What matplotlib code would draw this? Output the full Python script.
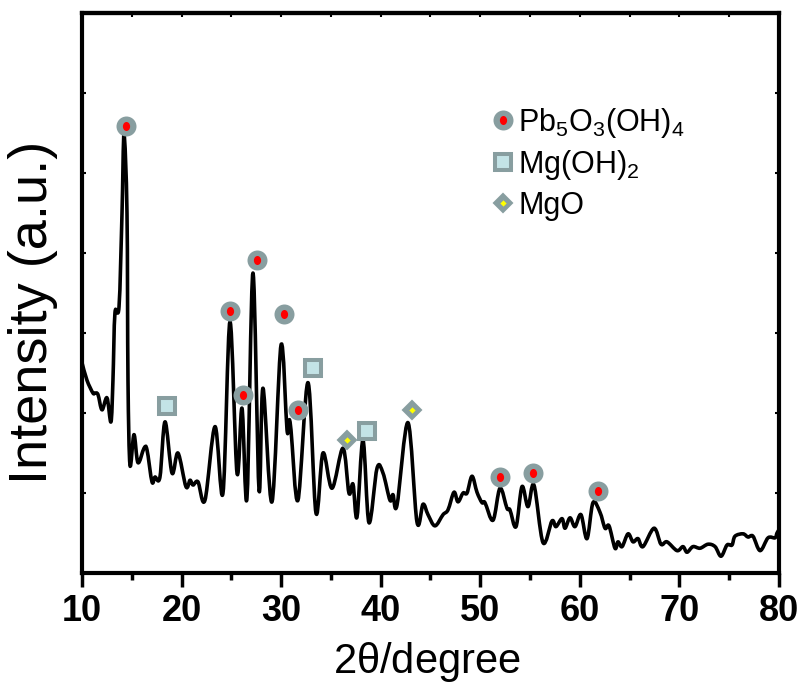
import numpy as np
import matplotlib
matplotlib.use("Agg")
import matplotlib.pyplot as plt
from matplotlib.lines import Line2D
from matplotlib.path import Path
from matplotlib.patches import PathPatch
from matplotlib.legend_handler import HandlerTuple
from matplotlib.ticker import MultipleLocator

plt.rcParams['font.family'] = ['Liberation Sans', 'DejaVu Sans']
plt.rcParams['mathtext.default'] = 'regular'

# XRD pattern, 2theta in degrees vs intensity (arbitrary units)
two_theta = [10.00, 10.50, 11.10, 11.31, 11.61, 12.01, 12.51, 12.91, 13.11, 13.31,
             13.72, 14.02, 14.22, 14.52, 14.62, 14.82, 15.22, 15.62, 16.23, 16.53,
             17.03, 17.33, 17.83, 18.34, 19.04, 19.64, 20.44, 20.85, 21.15, 21.65,
             22.35, 23.36, 24.16, 24.86, 25.57, 26.07, 26.57, 27.17, 27.78, 28.18,
             29.08, 29.99, 30.59, 30.79, 30.99, 31.69, 32.70, 33.50, 34.20, 35.11,
             36.21, 36.81, 37.22, 37.62, 38.22, 38.82, 39.63, 40.23, 40.93, 41.23,
             41.64, 42.74, 43.64, 44.25, 44.75, 45.45, 46.26, 46.76, 47.36, 47.76,
             48.27, 48.67, 49.17, 49.67, 50.17, 50.47, 51.28, 51.98, 52.68, 52.98,
             53.59, 54.19, 54.79, 55.39, 56.30, 57.20, 57.60, 58.21, 58.51, 59.01,
             59.51, 60.11, 60.72, 61.32, 62.02, 62.53, 62.93, 63.53, 63.83, 64.24,
             64.84, 65.34, 65.84, 66.34, 67.45, 68.15, 68.75, 69.76, 70.36, 70.76,
             71.36, 72.07, 72.87, 73.58, 74.18, 74.78, 75.28, 75.58, 76.39, 76.89,
             77.39, 78.10, 78.90, 79.60, 79.80, 80.00]
intensity = [2.63, 2.41, 2.25, 2.25, 2.23, 2.04, 2.19, 1.89, 2.41, 3.25,
             3.33, 4.50, 5.48, 4.50, 2.41, 1.35, 1.73, 1.38, 1.56, 1.54,
             1.14, 1.20, 1.20, 1.89, 1.25, 1.50, 1.08, 1.16, 1.10, 1.14,
             0.91, 1.83, 1.00, 3.14, 1.25, 2.06, 0.94, 3.75, 1.04, 2.31,
             0.89, 2.85, 1.79, 1.91, 1.79, 0.91, 2.38, 0.75, 1.50, 1.06,
             1.56, 1.00, 1.11, 0.70, 1.66, 0.63, 1.31, 1.25, 0.91, 0.98,
             0.85, 1.88, 0.64, 0.86, 0.73, 0.59, 0.73, 0.79, 1.01, 0.89,
             1.00, 1.00, 1.21, 1.01, 0.88, 0.88, 0.66, 1.06, 0.81, 0.79,
             0.58, 1.08, 0.83, 1.10, 0.38, 0.65, 0.58, 0.68, 0.56, 0.69,
             0.58, 0.73, 0.43, 0.88, 0.76, 0.56, 0.59, 0.31, 0.39, 0.33,
             0.49, 0.39, 0.43, 0.33, 0.56, 0.36, 0.39, 0.28, 0.33, 0.26,
             0.33, 0.31, 0.36, 0.33, 0.21, 0.35, 0.35, 0.46, 0.49, 0.45,
             0.46, 0.28, 0.44, 0.44, 0.50, 0.54]

# phase markers
pb_x = [14.42, 24.86, 27.58, 30.29, 26.17, 31.69, 51.98, 55.29, 61.82]
pb_y = [5.59, 3.28, 3.91, 3.24, 2.23, 2.04, 1.20, 1.25, 1.03]
mgoh_x = [18.54, 33.20, 38.62]
mgoh_y = [2.09, 2.56, 1.78]
mgo_x = [36.61, 43.14]
mgo_y = [1.66, 2.04]

grey = '#889ea0'
light = '#c3e3e6'


def spline_path(x, y):
    # Catmull-Rom through the points, written as cubic bezier segments
    p = np.column_stack([x, y])
    ext = np.vstack([p[0], p, p[-1]])
    verts = [p[0]]
    codes = [Path.MOVETO]
    for i in range(1, len(ext) - 2):
        c1 = ext[i] + (ext[i + 1] - ext[i - 1]) / 6
        c2 = ext[i + 1] - (ext[i + 2] - ext[i]) / 6
        verts += [c1, c2, ext[i + 1]]
        codes += [Path.CURVE4] * 3
    return Path(verts, codes)


# slightly tall ellipse for the red dot
ellipse = Path(Path.unit_circle().vertices * [0.8, 1.0], Path.unit_circle().codes)

fig = plt.figure(figsize=(8.03, 6.87), dpi=100)
ax = fig.add_axes([0.1021, 0.1659, 0.868, 0.8151])

ax.add_patch(PathPatch(spline_path(two_theta, intensity), fill=False,
                       edgecolor='black', lw=2.6, joinstyle='round', zorder=2))

pb_outer = dict(marker='o', ms=14.4, mfc=grey, mec=grey, mew=0, ls='none')
pb_inner = dict(marker=ellipse, ms=6.5, mfc='red', mec='red', mew=0, ls='none')
sq = dict(marker='s', ms=11.5, mfc=light, mec=grey, mew=2.9, ls='none')
dm_outer = dict(marker='D', ms=9.5, mfc=grey, mec=grey, mew=1.5, ls='none')
dm_inner = dict(marker='D', ms=3.2, mfc='yellow', mec='yellow', mew=0, ls='none')

ax.plot(pb_x, pb_y, zorder=3, **pb_outer)
ax.plot(pb_x, pb_y, zorder=4, **pb_inner)
ax.plot(mgoh_x, mgoh_y, zorder=3, solid_joinstyle='round', **sq)
ax.plot(mgo_x, mgo_y, zorder=3, **dm_outer)
ax.plot(mgo_x, mgo_y, zorder=4, **dm_inner)

h_pb = (Line2D([], [], **pb_outer), Line2D([], [], **pb_inner))
h_sq = Line2D([], [], **sq)
h_dm = (Line2D([], [], **dm_outer), Line2D([], [], **dm_inner))
ax.legend([h_pb, h_sq, h_dm],
          [r'Pb$_5$O$_3$(OH)$_4$', r'Mg(OH)$_2$', 'MgO'],
          handler_map={tuple: HandlerTuple(ndivide=1, pad=0)},
          loc='upper left', bbox_to_anchor=(0.564, 0.862), frameon=False,
          fontsize=22, handlelength=0.8, handletextpad=0.12,
          labelspacing=0.28, borderpad=0)

ax.set_xlim(10, 80)
ax.set_ylim(0, 7)
ax.xaxis.set_major_locator(MultipleLocator(10))
ax.xaxis.set_minor_locator(MultipleLocator(5))
ax.yaxis.set_major_locator(MultipleLocator(1))

for sp in ax.spines.values():
    sp.set_linewidth(3)

ax.tick_params(axis='x', which='major', direction='out', length=10, width=2.5, pad=5)
ax.tick_params(axis='x', which='minor', direction='out', length=5, width=2.5)
ax.tick_params(axis='y', which='major', direction='in', length=3, width=1.5,
               left=True, right=True, labelleft=False)

top = ax.secondary_xaxis('top')
top.xaxis.set_major_locator(MultipleLocator(5))
top.tick_params(direction='in', length=3, width=1.5, labeltop=False)
top.spines['top'].set_linewidth(3)

for lab in ax.get_xticklabels():
    lab.set_family(['Liberation Sans Narrow', 'Liberation Sans', 'DejaVu Sans'])
    lab.set_fontweight('bold')
    lab.set_fontsize(26)

ax.set_xlabel(r'2$\theta$/degree', fontsize=30)
ax.xaxis.set_label_coords(0.495, -0.12)
ax.set_ylabel('Intensity (a.u.)', fontsize=39)
ax.yaxis.set_label_coords(-0.035, 0.465)

fig.savefig('out.png', dpi=100)
